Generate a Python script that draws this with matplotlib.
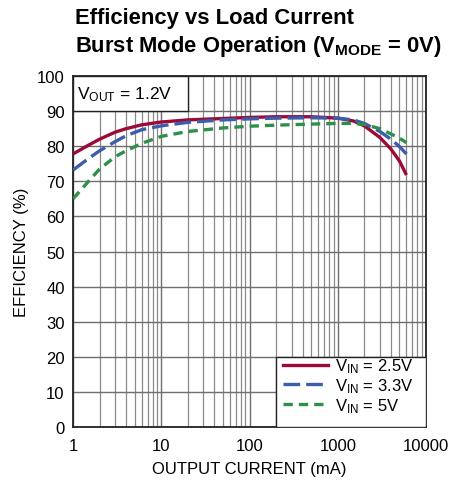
import matplotlib
matplotlib.use("Agg")
import matplotlib.pyplot as plt
from matplotlib.patches import Rectangle
from matplotlib.lines import Line2D

plt.rcParams['font.family'] = ['Liberation Sans', 'DejaVu Sans']

# data
current_ma = [1, 1.5, 2, 3, 4, 6, 10, 20, 50, 100, 200, 500, 1000, 1500, 2000, 3000, 4000, 5000, 6000]
eff_vin_25 = [77.8, 80.3, 82.0, 84.0, 85.0, 86.1, 86.9, 87.5, 87.9, 88.2, 88.4, 88.4, 88.0, 87.2, 85.8, 82.5, 79.2, 75.8, 71.8]
eff_vin_33 = [73.2, 76.5, 78.7, 81.3, 83.0, 84.7, 85.8, 86.8, 87.5, 87.8, 88.0, 88.1, 88.0, 87.5, 86.5, 84.2, 82.0, 79.9, 77.8]
eff_vin_5 = [65.0, 70.0, 73.5, 77.0, 78.7, 80.8, 82.8, 84.2, 85.2, 85.7, 86.0, 86.3, 86.5, 86.5, 86.2, 85.0, 83.5, 82.3, 81.0]
series_labels = ['$\\mathregular{V_{IN}}$ = 2.5V', '$\\mathregular{V_{IN}}$ = 3.3V', '$\\mathregular{V_{IN}}$ = 5V']
x_ticks = [1, 10, 100, 1000, 10000]
y_ticks = list(range(0, 101, 10))

red = '#9c0b37'
blue = '#3b5dab'
green = '#2f8f4a'

fig = plt.figure(figsize=(4.49, 4.89), dpi=100)
ax = fig.add_axes([0.1626, 0.1247, 0.7862, 0.7178])

ax.set_xscale('log')
ax.set_xlim(1, 10000)
ax.set_ylim(0, 100)

# grid: every minor decade line and every 10%
ax.set_xticks(x_ticks)
ax.set_xticklabels([str(t) for t in x_ticks])
ax.set_yticks(y_ticks)
ax.set_xticks([m * 10 ** d for d in range(4) for m in range(2, 10)], minor=True)
ax.grid(True, which='major', axis='both', color='#6e6e6e', linewidth=1.0)
ax.grid(True, which='minor', axis='x', color='#8a8a8a', linewidth=0.9)
ax.tick_params(which='both', length=0, labelsize=12, pad=6)
ax.tick_params(axis='x', pad=8)
for s in ax.spines.values():
    s.set_linewidth(1.3)
    s.set_color('#222222')

ax.plot(current_ma, eff_vin_25, color=red, lw=2.4, solid_capstyle='butt', zorder=3)
ax.plot(current_ma, eff_vin_33, color=blue, lw=2.4, dashes=(5, 1.8), zorder=3)
ax.plot(current_ma, eff_vin_5, color=green, lw=2.4, dashes=(2.8, 1.8), zorder=3)

# VOUT box in top-left corner
ax.add_patch(Rectangle((1, 90), 19, 10, facecolor='white', edgecolor='#222222', lw=1.0, zorder=4))
ax.text(1.12, 95, '$\\mathregular{V_{OUT}}$ = 1.2V', fontsize=12.5, va='center', ha='left', zorder=5)

# legend box in the bottom-right corner
ax.add_patch(Rectangle((200, 0), 9800, 20, facecolor='white', edgecolor='#222222', lw=1.0, zorder=4))
handles = [Line2D([], [], color=red, lw=2.4),
           Line2D([], [], color=blue, lw=2.4, dashes=(5, 1.8)),
           Line2D([], [], color=green, lw=2.4, dashes=(2.8, 1.8))]
leg = ax.legend(handles, series_labels, loc='lower right', bbox_to_anchor=(1.0, 0.0),
                frameon=False, fontsize=12, handlelength=2.7, handletextpad=0.4,
                labelspacing=0.05, borderaxespad=0.35)
leg.set_zorder(6)

ax.set_xlabel('OUTPUT CURRENT (mA)', fontsize=12, labelpad=6)
ax.set_ylabel('EFFICIENCY (%)', fontsize=12, labelpad=6)

fig.text(0.168, 0.962, 'Efficiency vs Load Current', fontsize=15.8, fontweight='bold', va='center')
fig.text(0.168, 0.904, 'Burst Mode Operation ($\\mathregular{V_{MODE}}$ = 0V)', fontsize=15.8,
         fontweight='bold', va='center')

fig.savefig('out.png', dpi=100)
